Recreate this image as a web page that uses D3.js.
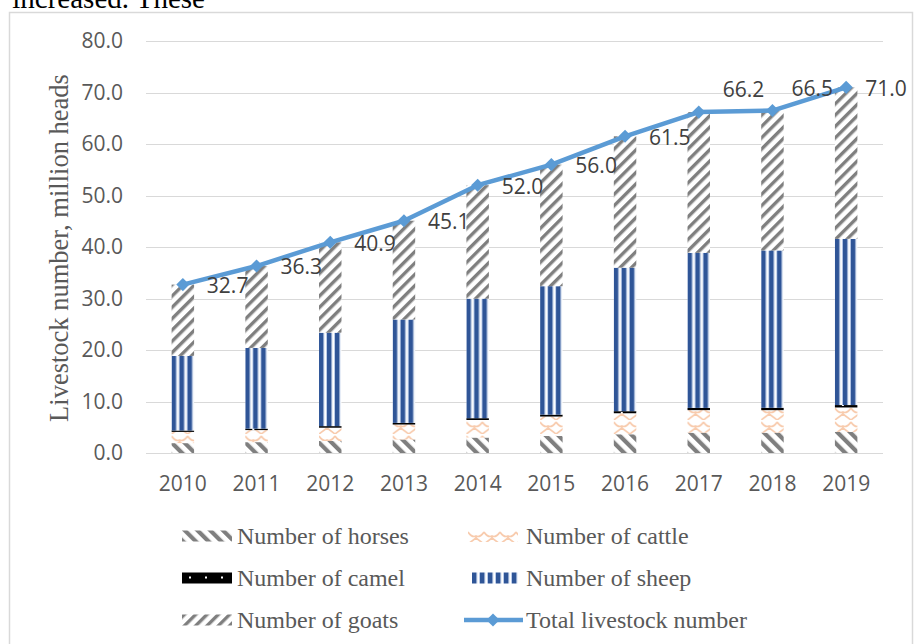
<!DOCTYPE html>
<html>
<head>
<meta charset="utf-8">
<script src="https://cdn.jsdelivr.net/npm/d3@7"></script>
<style>
    body { margin: 0; background: #fff; }
    svg { display: block; }
</style>
</head>
<body>
<div id="chart"></div>
<script>
// Livestock by year, million heads
var years = ['2010', '2011', '2012', '2013', '2014', '2015', '2016', '2017', '2018', '2019'];
var horses = [1.92, 2.11, 2.33, 2.62, 3.00, 3.30, 3.64, 3.94, 3.94, 4.09];
var cattle = [2.18, 2.34, 2.58, 2.91, 3.41, 3.78, 4.08, 4.39, 4.38, 4.75];
var camel = [0.27, 0.28, 0.31, 0.32, 0.35, 0.37, 0.40, 0.43, 0.46, 0.47];
var sheep = [14.48, 15.67, 18.14, 20.07, 23.21, 24.94, 27.86, 30.11, 30.55, 32.27];
var goats = [13.85, 15.90, 17.54, 19.18, 22.03, 23.61, 25.52, 27.33, 27.17, 29.42];
var total = [32.7, 36.3, 40.9, 45.1, 52.0, 56.0, 61.5, 66.2, 66.5, 71.0];
var yTicks = [0, 10, 20, 30, 40, 50, 60, 70, 80];

var seriesNames = ['Number of horses', 'Number of cattle', 'Number of camel', 'Number of sheep', 'Number of goats'];
var seriesKeys = ['horses', 'cattle', 'camel', 'sheep', 'goats'];
var totalName = 'Total livestock number';
// labels that sit above the line instead of beside it
var liftedLabels = ['2017', '2018'];
// labels pulled in closer to their marker (they would hit the next one)
var tightLabels = ['2018', '2019'];

var width = 916, height = 644;
var plot = {left: 146, right: 883, top: 41, bottom: 453};
var gridColor = '#d9d9d9', textColor = '#595959', lineColor = '#5B9BD5';
var sansFont = '"Open Sans", "Noto Sans", sans-serif';
var serifFont = '"Liberation Serif", "DejaVu Serif", serif';

var svg = d3.select('#chart').append('svg')
    .attr('width', width)
    .attr('height', height);

// ---- fill patterns ----
var defs = svg.append('defs');

function stripePattern(id, angle, size, stroke) {
    var p = defs.append('pattern')
        .attr('id', id)
        .attr('patternUnits', 'userSpaceOnUse')
        .attr('width', size).attr('height', size)
        .attr('patternTransform', 'rotate(' + angle + ')');
    p.append('rect').attr('width', size).attr('height', size).attr('fill', '#fff');
    p.append('rect').attr('width', stroke).attr('height', size).attr('fill', '#7f7f7f');
}
stripePattern('pat-horses', -45, 9, 4.2);
stripePattern('pat-goats', 45, 8, 3.4);

var cat = defs.append('pattern')
    .attr('id', 'pat-cattle')
    .attr('patternUnits', 'userSpaceOnUse')
    .attr('width', 16).attr('height', 14);
cat.append('rect').attr('width', 16).attr('height', 14).attr('fill', '#fff');
cat.append('path')
    .attr('d', 'M0,2 Q4,8 8,6 Q12,8 16,2 M8,6 L8,8 M8,8 L0,14 M8,8 L16,14')
    .attr('fill', 'none')
    .attr('stroke', '#F8CBAD')
    .attr('stroke-width', 1.6);

var cam = defs.append('pattern')
    .attr('id', 'pat-camel')
    .attr('patternUnits', 'userSpaceOnUse')
    .attr('width', 16).attr('height', 8);
cam.append('rect').attr('width', 16).attr('height', 8).attr('fill', '#000');
cam.append('rect').attr('x', 7).attr('y', 4).attr('width', 2).attr('height', 2).attr('fill', '#fff');

var shp = defs.append('pattern')
    .attr('id', 'pat-sheep')
    .attr('patternUnits', 'userSpaceOnUse')
    .attr('width', 8).attr('height', 8);
shp.append('rect').attr('width', 8).attr('height', 8).attr('fill', '#fff');
shp.append('rect').attr('x', 4.4).attr('width', 0.9).attr('height', 8).attr('fill', '#b4c7e7');
shp.append('rect').attr('x', 7.1).attr('width', 0.9).attr('height', 8).attr('fill', '#b4c7e7');
shp.append('rect').attr('width', 4.4).attr('height', 8).attr('fill', '#2F5597');

var fills = {
    horses: 'url(#pat-horses)',
    cattle: 'url(#pat-cattle)',
    camel: 'url(#pat-camel)',
    sheep: 'url(#pat-sheep)',
    goats: 'url(#pat-goats)'
};

// ---- text above the chart and frame ----
svg.append('text')
    .attr('x', 205).attr('y', 8)
    .attr('text-anchor', 'end')
    .style('font-family', serifFont)
    .style('font-size', '29px')
    .attr('fill', '#000')
    .text('increased. These');

svg.append('rect')
    .attr('x', 9.5).attr('y', 12.5)
    .attr('width', 903).attr('height', 660)
    .attr('fill', 'none')
    .attr('stroke', gridColor)
    .attr('stroke-width', 1.5);

// ---- scales ----
var xScale = d3.scaleBand().domain(years)
    .range([plot.left, plot.right])
    .paddingInner(0.695).paddingOuter(0.3475);
var yScale = d3.scaleLinear().domain([0, 80]).range([plot.bottom, plot.top]);

// gridlines
svg.append('g')
    .selectAll('line')
    .data(yTicks)
    .enter()
    .append('line')
    .attr('x1', plot.left).attr('x2', plot.right)
    .attr('y1', function (d) { return Math.round(yScale(d)) + 0.5; })
    .attr('y2', function (d) { return Math.round(yScale(d)) + 0.5; })
    .attr('stroke', gridColor)
    .attr('stroke-width', 1.2);

// y axis labels
var yAxis = svg.append('g')
    .attr('transform', 'translate(' + plot.left + ',0)')
    .call(d3.axisLeft(yScale).tickValues(yTicks).tickFormat(d3.format('.1f')).tickSize(0).tickPadding(23));
yAxis.select('.domain').remove();
yAxis.selectAll('text')
    .style('font-family', sansFont)
    .style('font-size', '21px')
    .attr('fill', textColor);

// x axis labels
var xAxis = svg.append('g')
    .attr('transform', 'translate(0,' + plot.bottom + ')')
    .call(d3.axisBottom(xScale).tickSize(0).tickPadding(23));
xAxis.select('.domain').remove();
xAxis.selectAll('text')
    .style('font-family', sansFont)
    .style('font-size', '21px')
    .attr('fill', textColor);

// y title
svg.append('text')
    .attr('transform', 'translate(68,' + ((plot.top + plot.bottom) / 2 + 1) + ') rotate(-90)')
    .attr('text-anchor', 'middle')
    .style('font-family', serifFont)
    .style('font-size', '26.5px')
    .attr('fill', textColor)
    .text('Livestock number, million heads');

// ---- stacked bars ----
var rows = years.map(function (y, i) {
    return {year: y, horses: horses[i], cattle: cattle[i], camel: camel[i], sheep: sheep[i], goats: goats[i]};
});
var stacked = d3.stack().keys(seriesKeys)(rows);

// each bar in its own group so the patterns start at the bar's left edge
var barGroups = svg.append('g').selectAll('g.bar')
    .data(rows)
    .enter()
    .append('g')
    .attr('class', 'bar')
    .attr('transform', function (d) { return 'translate(' + xScale(d.year) + ',0)'; });

barGroups.each(function (d, i) {
    var g = d3.select(this);
    stacked.forEach(function (layer) {
        var seg = layer[i];
        g.append('rect')
            .attr('x', 0)
            .attr('width', xScale.bandwidth())
            .attr('y', yScale(seg[1]))
            .attr('height', yScale(seg[0]) - yScale(seg[1]))
            .attr('fill', fills[layer.key]);
    });
});

// ---- total line ----
function cx(y) { return xScale(y) + xScale.bandwidth() / 2; }

var line = d3.line()
    .x(function (d, i) { return cx(years[i]); })
    .y(function (d) { return yScale(d); });

svg.append('path')
    .datum(total)
    .attr('d', line)
    .attr('fill', 'none')
    .attr('stroke', lineColor)
    .attr('stroke-width', 4.5)
    .attr('stroke-linejoin', 'round');

var diamond = d3.symbol().type(d3.symbolDiamond2).size(110);
svg.append('g').selectAll('path')
    .data(total)
    .enter()
    .append('path')
    .attr('d', diamond)
    .attr('transform', function (d, i) { return 'translate(' + cx(years[i]) + ',' + yScale(d) + ')'; })
    .attr('fill', lineColor);

svg.append('g').selectAll('text')
    .data(total)
    .enter()
    .append('text')
    .attr('x', function (d, i) {
        return cx(years[i]) + (tightLabels.indexOf(years[i]) >= 0 ? 19 : 24);
    })
    .attr('y', function (d, i) {
        var lifted = liftedLabels.indexOf(years[i]) >= 0;
        return yScale(d) + (lifted ? -22 : 1);
    })
    .attr('dy', '0.35em')
    .style('font-family', sansFont)
    .style('font-size', '21px')
    .attr('fill', '#404040')
    .text(function (d) { return d3.format('.1f')(d); });

// ---- legend ----
var legendItems = [
    {name: seriesNames[0], key: 'horses', x: 182, y: 536},
    {name: seriesNames[1], key: 'cattle', x: 468, y: 536},
    {name: seriesNames[2], key: 'camel', x: 182, y: 578},
    {name: seriesNames[3], key: 'sheep', x: 468, y: 578},
    {name: seriesNames[4], key: 'goats', x: 182, y: 620},
    {name: totalName, key: 'total', x: 464, y: 620}
];

var legend = svg.append('g');
legendItems.forEach(function (item) {
    var g = legend.append('g').attr('transform', 'translate(' + item.x + ',' + item.y + ')');
    var textX;
    if (item.key === 'total') {
        g.append('line')
            .attr('x1', 0).attr('x2', 59)
            .attr('y1', 0).attr('y2', 0)
            .attr('stroke', lineColor)
            .attr('stroke-width', 4.5);
        g.append('path')
            .attr('d', diamond)
            .attr('transform', 'translate(29,0)')
            .attr('fill', lineColor);
        textX = 62;
    } else {
        var h = item.key === 'cattle' ? 12 : 11;
        var sx = item.key === 'sheep' ? 4 : 0;
        g.append('g')
            .attr('transform', 'translate(' + sx + ',' + (-h / 2) + ')')
            .append('rect')
            .attr('width', item.key === 'sheep' ? 46 : 50).attr('height', h)
            .attr('fill', fills[item.key]);
        textX = item.x < 300 ? 55 : 58;
    }
    g.append('text')
        .attr('x', textX)
        .attr('dy', '0.35em')
        .style('font-family', serifFont)
        .style('font-size', '24px')
        .attr('fill', textColor)
        .text(item.name);
});
</script>
</body>
</html>
